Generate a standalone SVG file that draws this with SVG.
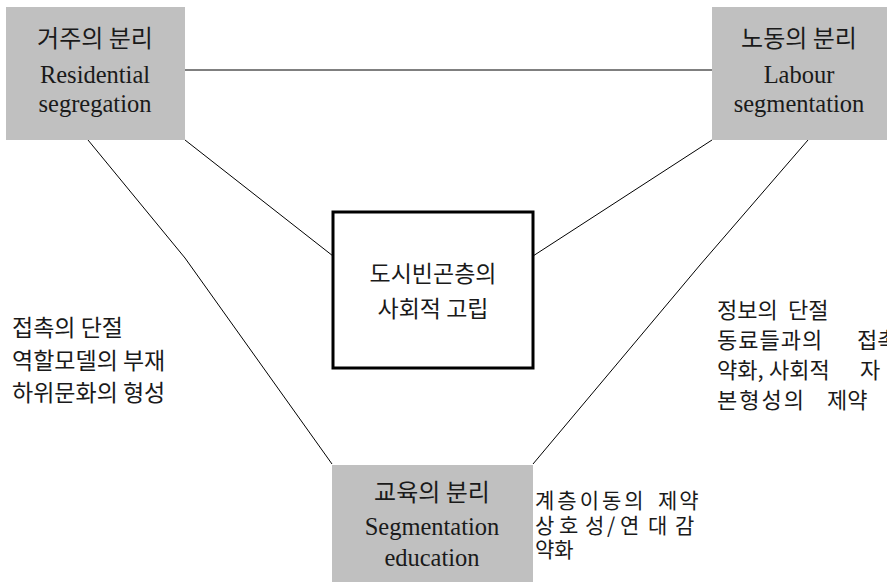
<svg xmlns="http://www.w3.org/2000/svg" width="887" height="582" viewBox="0 0 887 582">
<style>
.box{fill:#c0c0c0;stroke:none}
.ctr{fill:#fff;stroke:#000;stroke-width:3}
.ln{fill:none;stroke:#000;stroke-width:1}
.bt{font-family:"Liberation Serif","Noto Sans CJK KR",serif;fill:#1a1a1a;text-anchor:middle}
.ko{font-size:24px;font-family:"Noto Sans CJK KR",sans-serif}
.la{font-size:24.5px}
.st{font-family:"Noto Sans CJK KR",sans-serif;font-size:23px;fill:#1a1a1a}
.rt{font-family:"Noto Sans CJK KR",sans-serif;font-size:22px;fill:#1a1a1a}
.bl{font-family:"Noto Sans CJK KR",sans-serif;font-size:21px;fill:#1a1a1a}
</style>
<rect width="887" height="582" fill="#fff"/>
<g id="connectors">
<line class="ln" x1="185" y1="70" x2="712" y2="70"/>
<polyline class="ln" points="88,140 185,258 332,464"/>
<polyline class="ln" points="808,140 700,265 533,464"/>
<line class="ln" x1="185" y1="140" x2="333" y2="256"/>
<line class="ln" x1="712" y1="140" x2="533" y2="256"/>
</g>
<g id="residential">
<rect class="box" x="6" y="7" width="179" height="133"/>
<text class="bt"><tspan class="ko" x="95" y="47">거주의 분리</tspan><tspan class="la" x="95" y="83">Residential</tspan><tspan class="la" x="95" y="112">segregation</tspan></text>
</g>
<g id="labour">
<rect class="box" x="712" y="7" width="175" height="133"/>
<text class="bt"><tspan class="ko" x="799" y="47">노동의 분리</tspan><tspan class="la" x="799" y="83">Labour</tspan><tspan class="la" x="799" y="112">segmentation</tspan></text>
</g>
<g id="education">
<rect class="box" x="332" y="465" width="201" height="117"/>
<text class="bt"><tspan class="ko" x="432" y="501">교육의 분리</tspan><tspan class="la" x="432" y="535">Segmentation</tspan><tspan class="la" x="432" y="566">education</tspan></text>
</g>
<g id="center">
<rect class="ctr" x="333" y="212" width="200" height="156"/>
<text class="st" text-anchor="middle"><tspan x="433" y="282">도시빈곤층의</tspan><tspan x="433" y="317">사회적 고립</tspan></text>
</g>
<g id="left-label">
<text class="st"><tspan x="12" y="336">접촉의 단절</tspan><tspan x="12" y="369">역할모델의 부재</tspan><tspan x="12" y="401">하위문화의 형성</tspan></text>
</g>
<g id="right-label">
<text class="rt"><tspan x="717" y="318">정보의</tspan><tspan x="788" y="318">단절</tspan><tspan x="717" y="348" letter-spacing="1">동료들과의</tspan><tspan x="857" y="348">접촉</tspan><tspan x="717" y="378">약화,</tspan><tspan x="769" y="378">사회적</tspan><tspan x="860" y="378">자</tspan><tspan x="717" y="408" letter-spacing="2">본형성의</tspan><tspan x="827" y="408">제약</tspan></text>
</g>
<g id="bottom-label">
<text class="bl"><tspan x="535" y="508" letter-spacing="3">계층이동의</tspan><tspan x="658" y="508" letter-spacing="2">제약</tspan><tspan x="535" y="533">상</tspan><tspan x="559" y="533">호</tspan><tspan x="585" y="533">성</tspan><tspan x="607" y="533">/</tspan><tspan x="620" y="533">연</tspan><tspan x="648" y="533">대</tspan><tspan x="675" y="533">감</tspan><tspan x="535" y="557">약화</tspan></text>
</g>
</svg>
